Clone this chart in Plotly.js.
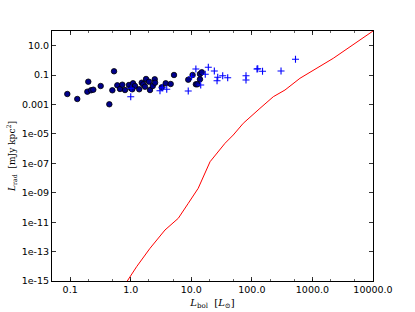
<!DOCTYPE html>
<html>
<head>
<meta charset="utf-8">
<script src="https://cdn.plot.ly/plotly-3.0.1.min.js"></script>
<style>html,body{margin:0;padding:0;background:#fff;}#chart{width:415px;height:312px;}</style>
</head>
<body>
<div id="chart"></div>
<script>
// Filled circles (dark blue)
const circleLbol = [0.0897,0.131,0.192,0.199,0.221,0.241,0.319,0.53,0.443,0.497,0.6,0.665,0.726,0.804,0.935,1.01,1.09,1.175,1.06,1.38,1.52,1.61,1.79,1.72,2.0,2.08,2.31,2.49,2.52,3.25,3.78,4.57,5.18,8.9,10.5,11.9,12.6,13.9,13.9,14.9];
const circleLrad = [0.0052,0.00238,0.00745,0.0357,0.0093,0.0102,0.0182,0.182,0.00104,0.0093,0.0203,0.0114,0.0223,0.0097,0.0213,0.0127,0.0278,0.0182,0.0109,0.0109,0.0305,0.0238,0.0545,0.0163,0.0357,0.0097,0.0182,0.052,0.0305,0.0149,0.0278,0.0249,0.102,0.0488,0.102,0.0238,0.0238,0.052,0.119,0.156];
// Plus markers (blue)
const plusLbol = [1.0,1.01,3.04,3.32,3.93,8.9,11.9,10.1,14.3,17.0,19.1,24.0,27.3,26.6,33,39.9,80,80,121.6,125,150,303,525];
const plusLrad = [0.0034,0.0127,0.0087,0.0139,0.0109,0.0083,0.26,0.078,0.0213,0.114,0.34,0.19,0.071,0.0417,0.091,0.0667,0.091,0.0466,0.26,0.27,0.182,0.19,1.21];
// Model curve (red)
const modelLbol = [0.718,0.877,1.25,2.08,3.68,6.1,8.91,13.0,20.4,26.2,36,49.3,72.1,136,226,352,622,2208,4169,10000];
const modelLrad = [1.53e-16,1e-15,9.4e-15,1.67e-13,2.94e-12,1.84e-11,1.92e-10,2.01e-9,1.29e-7,4.83e-7,2.31e-6,8.47e-6,5.3e-5,5.5e-4,3.4e-3,9.7e-3,0.0608,1.39,8.55,100];
// Tick labels
const xTickVals = [0.1,1,10,100,1000,10000];
const xTickText = ["0.1","1.0","10.0","100.0","1000.0","10000.0"];
const yTickVals = [10,0.1,0.001,1e-5,1e-7,1e-9,1e-11,1e-13,1e-15];
const yTickText = ["10.0","0.1","0.001","1e-05","1e-07","1e-09","1e-11","1e-13","1e-15"];

const traces = [
  {x: modelLbol, y: modelLrad, mode: 'lines', line: {color: 'red', width: 1}, hoverinfo: 'skip'},
  {x: circleLbol, y: circleLrad, mode: 'markers',
   marker: {symbol: 'circle', size: 5.5, color: '#00008b', line: {color: '#000', width: 0.8}}},
  {x: plusLbol, y: plusLrad, mode: 'markers',
   marker: {symbol: 'cross-thin', size: 5, color: 'blue', line: {color: 'blue', width: 1.1}}}
];

const tickFont = {family: 'DejaVu Sans', size: 9.5, color: '#000'};
const layout = {
  width: 415, height: 312,
  margin: {l: 52, r: 42, t: 31, b: 31, pad: 0},
  paper_bgcolor: '#fff', plot_bgcolor: '#fff',
  showlegend: false,
  xaxis: {
    type: 'log', range: [-1.3, 4.0],
    tickvals: xTickVals, ticktext: xTickText,
    ticks: 'inside', ticklen: 4, tickwidth: 0.8, tickcolor: '#000',
    minor: {ticks: 'inside', ticklen: 2, tickwidth: 0.6, tickcolor: '#000', showgrid: false},
    showline: true, linecolor: '#000', linewidth: 1, mirror: 'ticks',
    showgrid: false, zeroline: false,
    tickfont: tickFont,
    title: {text: '<i>L</i><sub>bol</sub>  [<i>L</i><sub>⊙</sub>]', font: {family: 'DejaVu Serif', size: 10, color: '#000'}, standoff: 4}
  },
  yaxis: {
    type: 'log', range: [-15, 2],
    tickvals: yTickVals, ticktext: yTickText,
    ticks: 'inside', ticklen: 4, tickwidth: 0.8, tickcolor: '#000',
    showline: true, linecolor: '#000', linewidth: 1, mirror: 'ticks',
    showgrid: false, zeroline: false,
    tickfont: tickFont,
    title: {text: '<i>L</i><sub>rad</sub>  [mJy kpc<sup>2</sup>]', font: {family: 'DejaVu Serif', size: 9, color: '#000'}, standoff: 4}
  }
};

Plotly.newPlot('chart', traces, layout, {staticPlot: true, displayModeBar: false});
</script>
</body>
</html>
